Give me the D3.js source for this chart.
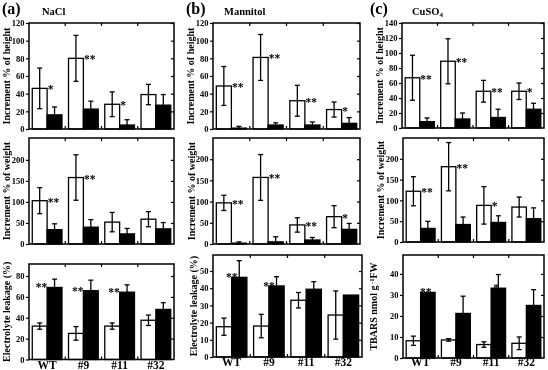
<!DOCTYPE html>
<html>
<head>
<meta charset="utf-8">
<script src="https://cdn.jsdelivr.net/npm/d3@7"></script>
<style>
  body { margin: 0; background: #fff; }
  svg { filter: grayscale(100%); }
  svg text { font-family: "Liberation Serif", "Times New Roman", serif; font-weight: bold; fill: #000; }
</style>
</head>
<body>
<div id="chart"></div>
<script>
// groups on the x axis
var groups = ["WT", "#9", "#11", "#32"];

// (a) NaCl
var naclHeightOpen = [46, 80, 28, 39], naclHeightOpenErr = [23, 26, 14, 11.5];
var naclHeightFilled = [16, 22.5, 4.5, 27], naclHeightFilledErr = [9, 9, 6, 12];
var naclHeightStars = ["*", "**", "*", ""];
var naclWeightOpen = [103, 158, 52, 59], naclWeightOpenErr = [31, 54, 23, 18];
var naclWeightFilled = [34, 40, 24, 36], naclWeightFilledErr = [14, 18, 13, 15];
var naclWeightStars = ["**", "**", "", ""];
var naclLeakOpen = [32, 25, 32, 37.6], naclLeakOpenErr = [3, 6.5, 3, 5];
var naclLeakFilled = [69, 66, 64.5, 48], naclLeakFilledErr = [8, 10, 7, 6.5];
var naclLeakStars = ["**", "**", "**", ""];

// (b) Mannitol
var manHeightOpen = [48.7, 81, 32, 22], manHeightOpenErr = [22, 26, 17.5, 8.5];
var manHeightFilled = [1, 4.5, 4.5, 6.4], manHeightFilledErr = [2, 2.5, 3.5, 6.5];
var manHeightStars = ["**", "**", "**", "*"];
var manWeightOpen = [97, 157, 45, 64.5], manWeightOpenErr = [18, 54, 17, 26];
var manWeightFilled = [2, 5, 9.4, 34.5], manWeightFilledErr = [3, 12, 6, 14];
var manWeightStars = ["**", "**", "**", "*"];
var manLeakOpen = [17.6, 18, 33, 24.4], manLeakOpenErr = [5, 6.8, 4.5, 14];
var manLeakFilled = [46.3, 41.3, 39.4, 36], manLeakFilledErr = [9.7, 5.4, 4.4, 0];
var manLeakStars = ["**", "**", "", ""];

// (c) CuSO4
var cuHeightOpen = [67, 89, 49, 49], cuHeightOpenErr = [30, 30, 14.5, 11];
var cuHeightFilled = [8.4, 12, 14, 25], cuHeightFilledErr = [5, 8, 11, 8];
var cuHeightStars = ["**", "**", "**", "*"];
var cuWeightOpen = [122, 181, 88, 84], cuWeightOpenErr = [35, 58, 45, 24];
var cuWeightFilled = [32.6, 42, 47, 56], cuWeightFilledErr = [17, 18, 16, 26];
var cuWeightStars = ["**", "**", "*", ""];
var cuTbarsOpen = [8.2, 8.6, 6.4, 7], cuTbarsOpenErr = [2.2, 0.6, 1.3, 3];
var cuTbarsFilled = [31.2, 21.2, 33.2, 25], cuTbarsFilledErr = [0, 8.2, 6.5, 7.5];
var cuTbarsStars = ["**", "", "*", ""];

// tick values
var heightTicks = [0, 20, 40, 60, 80, 100, 120];
var cuHeightTicks = [0, 20, 40, 60, 80, 100, 120, 140];
var weightTicks = [0, 50, 100, 150, 200];
var naclLeakTicks = [0, 20, 40, 60, 80];
var manLeakTicks = [0, 10, 20, 30, 40, 50];
var tbarsTicks = [0, 10, 20, 30, 40];

var svg = d3.select("#chart").append("svg")
  .attr("width", 548)
  .attr("height", 370);

function rows(open, openErr, filled, filledErr, stars) {
  return groups.map(function(g, i) {
    return { g: g, open: open[i], openErr: openErr[i], filled: filled[i], filledErr: filledErr[i], star: stars[i] };
  });
}

function drawPanel(p) {
  var g = svg.append("g");
  var x = d3.scaleBand().domain(groups).range([p.x0, p.x1]);
  var x1 = d3.scaleBand().domain(["open", "filled"]).range([0, x.bandwidth()]).paddingOuter(0.22);
  var y = d3.scaleLinear().domain([0, p.max]).range([p.y1, p.y0]);
  var data = rows.apply(null, p.data);

  // left axis (outer ticks)
  var left = g.append("g")
    .attr("transform", "translate(" + p.x0 + ",0)")
    .call(d3.axisLeft(y).tickValues(p.ticks).tickSize(3).tickPadding(1.5));
  left.select(".domain").remove();
  left.selectAll("text").attr("font-size", "8.5px").attr("font-family", "Liberation Serif").attr("font-weight", "bold").attr("fill", "#000");
  left.selectAll("line").attr("stroke", "#000").attr("stroke-width", 1.2);

  // right axis ticks (inside)
  var right = g.append("g")
    .attr("transform", "translate(" + p.x1 + ",0)")
    .call(d3.axisLeft(y).tickValues(p.ticks.slice(1)).tickSize(3).tickFormat(""));
  right.select(".domain").remove();
  right.selectAll("line").attr("stroke", "#000").attr("stroke-width", 1.2);

  // group boundary ticks on top and bottom
  var bounds = groups.slice(1);
  g.selectAll(".tb").data(bounds).enter().append("line")
    .attr("x1", d => x(d)).attr("x2", d => x(d))
    .attr("y1", p.y0).attr("y2", p.y0 + 3)
    .attr("stroke", "#000").attr("stroke-width", 1.2);
  g.selectAll(".bb").data(bounds).enter().append("line")
    .attr("x1", d => x(d)).attr("x2", d => x(d))
    .attr("y1", p.y1).attr("y2", p.y1 - 3)
    .attr("stroke", "#000").attr("stroke-width", 1.2);

  var grp = g.selectAll(".grp").data(data).enter().append("g")
    .attr("transform", d => "translate(" + x(d.g) + ",0)");

  // error bars
  function errBar(sel, key, errKey) {
    var cx = x1(key) + x1.bandwidth() / 2;
    var e = sel.filter(d => d[errKey] > 0);
    e.append("line")
      .attr("x1", cx).attr("x2", cx)
      .attr("y1", d => y(d[key] + d[errKey])).attr("y2", d => y(Math.max(0, d[key] - d[errKey])))
      .attr("stroke", "#000").attr("stroke-width", 1.3);
    e.append("line")
      .attr("x1", cx - 2.5).attr("x2", cx + 2.5)
      .attr("y1", d => y(d[key] + d[errKey])).attr("y2", d => y(d[key] + d[errKey]))
      .attr("stroke", "#000").attr("stroke-width", 1.3);
    e.append("line")
      .attr("x1", cx - 2.5).attr("x2", cx + 2.5)
      .attr("y1", d => y(Math.max(0, d[key] - d[errKey]))).attr("y2", d => y(Math.max(0, d[key] - d[errKey])))
      .attr("stroke", "#000").attr("stroke-width", 1.3);
  }

  grp.append("rect")
    .attr("x", x1("open")).attr("width", x1.bandwidth())
    .attr("y", d => y(d.open)).attr("height", d => y(0) - y(d.open))
    .attr("fill", "#fff").attr("stroke", "#000").attr("stroke-width", 1.3);
  grp.append("rect")
    .attr("x", x1("filled")).attr("width", x1.bandwidth())
    .attr("y", d => y(d.filled)).attr("height", d => y(0) - y(d.filled))
    .attr("fill", "#000").attr("stroke", "#000").attr("stroke-width", 1.3);
  errBar(grp, "open", "openErr");
  errBar(grp, "filled", "filledErr");

  // significance stars
  grp.filter(d => d.star).append("text")
    .attr("x", d => p.starOnFilled ? x1("filled") + p.starDx : x1("filled") + 0.5)
    .attr("y", d => p.starOnFilled ? y(d.filled) + 4 : y(d.open) + 5)
    .attr("text-anchor", p.starOnFilled ? p.starAnchor : "start")
    .attr("fill", "#000")
    .attr("font-size", "11.5px")
    .text(d => d.star);

  // frame
  g.append("rect")
    .attr("x", p.x0).attr("y", p.y0)
    .attr("width", p.x1 - p.x0).attr("height", p.y1 - p.y0)
    .attr("fill", "none").attr("stroke", "#000").attr("stroke-width", 1.5);

  // y title
  var t = g.append("text")
    .attr("transform", "translate(" + p.labelX + "," + ((p.y0 + p.y1) / 2) + ") rotate(-90)")
    .attr("text-anchor", "middle")
    .attr("font-size", "10px");
  if (p.tbars) {
    t.append("tspan").text("TBARS nmol g");
    t.append("tspan").attr("dy", -3.5).attr("font-size", "6.5px").text(" -1");
    t.append("tspan").attr("dy", 3.5).text("FW");
  } else {
    t.text(p.label);
  }

  // x labels
  if (p.xLabels) {
    g.selectAll(".xl").data(groups).enter().append("text")
      .attr("x", d => x(d) + x.bandwidth() / 2)
      .attr("y", p.xLabelY)
      .attr("text-anchor", "middle")
      .attr("font-size", "11.5px")
      .text(d => d);
  }
}

// column (a)
drawPanel({ x0: 29, x1: 174, y0: 23, y1: 129, max: 120, ticks: heightTicks, labelX: 9.5, label: "Increment % of height",
  data: [naclHeightOpen, naclHeightOpenErr, naclHeightFilled, naclHeightFilledErr, naclHeightStars] });
drawPanel({ x0: 29, x1: 174, y0: 138, y1: 244, max: 252, ticks: weightTicks, labelX: 9.5, label: "Increment % of weight",
  data: [naclWeightOpen, naclWeightOpenErr, naclWeightFilled, naclWeightFilledErr, naclWeightStars] });
drawPanel({ x0: 29, x1: 174, y0: 264, y1: 359.5, max: 91.5, ticks: naclLeakTicks, labelX: 9.5, label: "Electrolyte leakage (%)",
  starOnFilled: true, starDx: 0, starAnchor: "end", xLabels: true, xLabelY: 368.5,
  data: [naclLeakOpen, naclLeakOpenErr, naclLeakFilled, naclLeakFilledErr, naclLeakStars] });

// column (b)
drawPanel({ x0: 213, x1: 360, y0: 23, y1: 129, max: 120, ticks: heightTicks, labelX: 193.5, label: "Increment % of height",
  data: [manHeightOpen, manHeightOpenErr, manHeightFilled, manHeightFilledErr, manHeightStars] });
drawPanel({ x0: 213, x1: 360, y0: 138, y1: 244, max: 250, ticks: weightTicks, labelX: 195, label: "Increment % of weight",
  data: [manWeightOpen, manWeightOpenErr, manWeightFilled, manWeightFilledErr, manWeightStars] });
drawPanel({ x0: 213, x1: 362, y0: 255, y1: 357, max: 59.3, ticks: manLeakTicks, labelX: 197, label: "Electrolyte leakage (%)",
  starOnFilled: true, starDx: 0, starAnchor: "middle", xLabels: true, xLabelY: 366,
  data: [manLeakOpen, manLeakOpenErr, manLeakFilled, manLeakFilledErr, manLeakStars] });

// column (c)
drawPanel({ x0: 402, x1: 544, y0: 23, y1: 128, max: 140, ticks: cuHeightTicks, labelX: 383, label: "Increment % of height",
  data: [cuHeightOpen, cuHeightOpenErr, cuHeightFilled, cuHeightFilledErr, cuHeightStars] });
drawPanel({ x0: 403, x1: 544, y0: 138, y1: 242, max: 250, ticks: weightTicks, labelX: 384, label: "Increment % of weight",
  data: [cuWeightOpen, cuWeightOpenErr, cuWeightFilled, cuWeightFilledErr, cuWeightStars] });
drawPanel({ x0: 403, x1: 544, y0: 255, y1: 358, max: 49, ticks: tbarsTicks, labelX: 377, tbars: true,
  starOnFilled: true, starDx: 5, starAnchor: "middle", xLabels: true, xLabelY: 366,
  data: [cuTbarsOpen, cuTbarsOpenErr, cuTbarsFilled, cuTbarsFilledErr, cuTbarsStars] });

// panel letters and titles
var heads = [
  { letter: "(a)", lx: 2, title: "NaCl", tx: 42 },
  { letter: "(b)", lx: 186, title: "Mannitol", tx: 224 },
  { letter: "(c)", lx: 370, title: "CuSO", tx: 412, sub: "4" }
];
heads.forEach(function(h) {
  svg.append("text").attr("x", h.lx).attr("y", 14).attr("font-size", "16px").text(h.letter);
  var t = svg.append("text").attr("x", h.tx).attr("y", 15).attr("font-size", "10.5px").text(h.title);
  if (h.sub) t.append("tspan").attr("dy", 2).attr("font-size", "7px").text(h.sub);
});
</script>
</body>
</html>
